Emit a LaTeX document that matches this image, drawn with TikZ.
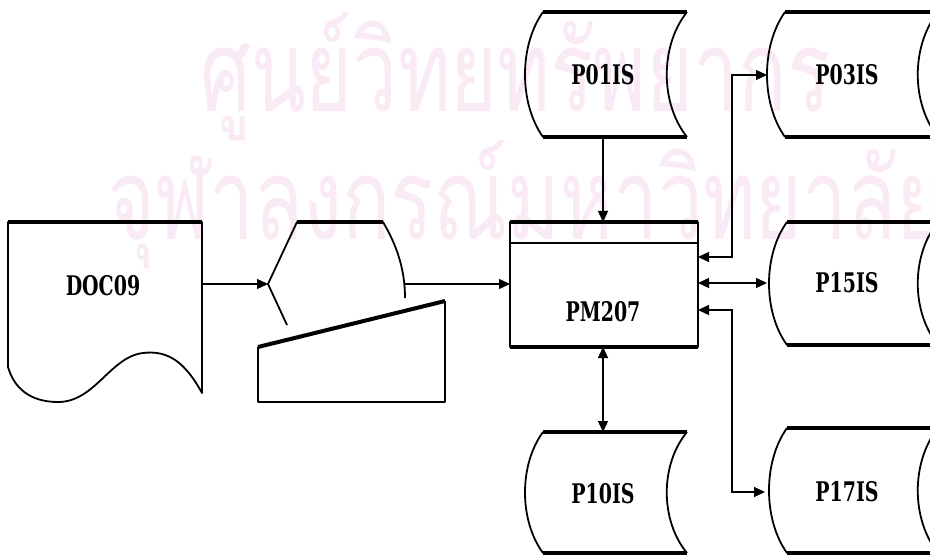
\documentclass[tikz,border=0pt]{standalone}
\usepackage{fontspec}
\newfontfamily\labfont{DejaVu Serif Condensed}
\newfontfamily\thaifont[Script=Thai]{Loma}
\usetikzlibrary{arrows.meta}
\definecolor{wm}{RGB}{249,234,245}
\newcommand\lab[1]{\scalebox{0.78}[1]{#1}}
\newcommand\storedshape[4]{%
  \draw[edge] (#1,#2) .. controls ({#1-24},{#2+0.27*(#4-#2)}) and ({#1-24},{#4-0.27*(#4-#2)}) .. (#1,#4);
  \draw[edge] (#3,#2) .. controls ({#3-27},{#2+0.27*(#4-#2)}) and ({#3-27},{#4-0.27*(#4-#2)}) .. (#3,#4);
  \draw[heavy] (#1,#2) -- (#3,#2);
  \draw[heavy] (#1,#4) -- (#3,#4);
}
\begin{document}
\begin{tikzpicture}[x=1pt,y=-1pt,
  edge/.style={line width=1.8pt,line join=round},
  heavy/.style={line width=4pt},
  conn/.style={line width=1.3pt},
  >={Triangle[length=11pt,width=10pt]},
  lbl/.style={inner sep=0pt,font=\labfont\bfseries\fontsize{27}{27}\selectfont},
  wmtext/.style={inner sep=0pt,text=wm,anchor=base west}]
\useasboundingbox (0,0) rectangle (930,559);
\clip (0,0) rectangle (930,559);
\fill[white] (0,0) rectangle (930,559);
% watermark
\node[wmtext] (wm1) at (200,112) {\resizebox{630pt}{\height}{\thaifont\fontsize{113}{113}\selectfont ศูนย์วิทยทรัพยากร}};
\node[wmtext] (wm2) at (108,240) {\resizebox{835pt}{\height}{\thaifont\fontsize{113}{113}\selectfont จุฬาลงกรณ์มหาวิทยาลัย}};
% document
\draw[edge] (8,222) -- (202,222) -- (202,393)
  .. controls (185,362) and (168,350) .. (143,353)
  .. controls (110,357) and (95,402) .. (58,402)
  .. controls (30,402) and (14,388) .. (8,367) -- cycle;
\draw[heavy] (8,222) -- (202,222);
% display / input
\draw[edge] (287,325) -- (268,284) -- (297,222) -- (383,222)
  .. controls (396,244) and (405,268) .. (405,298);
\draw[heavy] (297,222) -- (383,222);
\draw[edge] (258,347) -- (258,402) -- (445,402) -- (445,301);
\draw[heavy] (258,347) -- (445,301);
% process
\draw[edge] (510,222) rectangle (698,347);
\draw[edge] (510,243) -- (698,243);
\draw[heavy] (510,222) -- (698,222);
\draw[heavy] (510,347) -- (698,347);
% stored data
\storedshape{543}{12}{687}{137}
\storedshape{785}{12}{938}{137}
\storedshape{787}{222}{938}{345}
\storedshape{543}{432}{687}{553}
\storedshape{787}{428}{938}{553}
% labels
\node[lbl] (doc) at (103,286) {\lab{DOC09}};
\node[lbl] (p01) at (603,75) {\lab{P01IS}};
\node[lbl] (p03) at (847,75) {\lab{P03IS}};
\node[lbl] (pm) at (603,312) {\lab{PM207}};
\node[lbl] (p15) at (847,283) {\lab{P15IS}};
\node[lbl] (p10) at (603,494) {\lab{P10IS}};
\node[lbl] (p17) at (847,492) {\lab{P17IS}};
% connection points
\coordinate (docR) at (202,284);
\coordinate (dispL) at (268,284);
\coordinate (dispR) at (405,284);
\coordinate (pmL) at (510,284);
\coordinate (pmT) at (603,222);
\coordinate (pmB) at (603,347);
\coordinate (pmR1) at (698,257);
\coordinate (pmR2) at (698,283);
\coordinate (pmR3) at (698,310);
\coordinate (p01B) at (603,137);
\coordinate (p10T) at (603,432);
\coordinate (p03L) at (767,75);
\coordinate (p15L) at (767,283);
\coordinate (p17L) at (765,492);
\coordinate (bus1) at (732,257);
\coordinate (bus3) at (732,310);
% connectors
\draw[conn,->] (docR) -- (dispL);
\draw[conn,->] (dispR) -- (pmL);
\draw[conn,->] (p01B) -- (pmT);
\draw[conn,<->] (pmB) -- (p10T);
\draw[conn,<->] (pmR1) -- (bus1) |- (p03L);
\draw[conn,<->] (pmR2) -- (p15L);
\draw[conn,<->] (pmR3) -- (bus3) |- (p17L);
\end{tikzpicture}
\end{document}
